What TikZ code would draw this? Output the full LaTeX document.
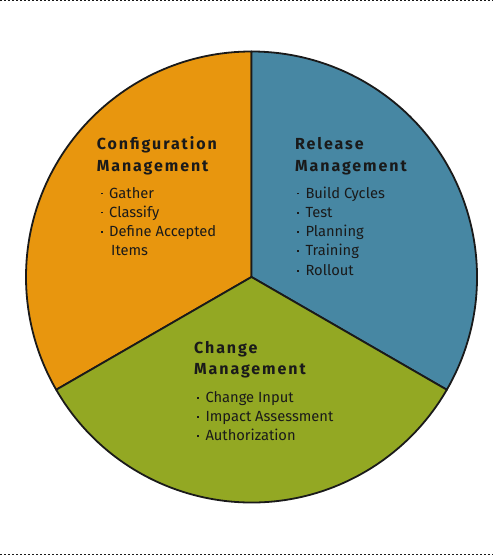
\documentclass[tikz,border=0pt]{standalone}
\usepackage{fontspec}
\setmainfont{Fira Sans}
\newfontfamily\headfont{Fira Sans}[LetterSpace=12]
\definecolor{cfgorange}{HTML}{E8960E}
\definecolor{relblue}{HTML}{4787A3}
\definecolor{chggreen}{HTML}{93A823}
\definecolor{edge}{HTML}{1A1A1A}
\newcommand\bitem[1]{\makebox[9bp][l]{\hspace{0.6bp}\raisebox{3.8bp}{\rule{1.8bp}{1.8bp}}}#1}
\begin{document}
\begin{tikzpicture}[x=1bp,y=1bp,
  sector/.style={draw=edge,line width=1.8bp,line join=round},
  head/.style={anchor=base west,inner sep=0pt,font=\headfont\bfseries\fontsize{16bp}{18bp}\selectfont,text=edge},
  listitem/.style={anchor=base west,inner sep=0pt,font=\fontsize{14.7bp}{17bp}\selectfont,text=edge},
  dotline/.style={draw=edge,line width=1bp,dash pattern=on 2bp off 2bp}]
\useasboundingbox (0,0) rectangle (493,556);
\coordinate (c) at (251.5,279);
\coordinate (tl) at (0,555); \coordinate (tr) at (493,555);
\coordinate (bl) at (0,1); \coordinate (br) at (493,1);
\draw[dotline] (tl) -- (tr);
\draw[dotline] (bl) -- (br);
\filldraw[sector,fill=cfgorange] (c) -- ++(90:225.5) arc[start angle=90,end angle=210,radius=225.5] -- cycle;
\filldraw[sector,fill=relblue] (c) -- ++(-30:225.5) arc[start angle=-30,end angle=90,radius=225.5] -- cycle;
\filldraw[sector,fill=chggreen] (c) -- ++(210:225.5) arc[start angle=210,end angle=330,radius=225.5] -- cycle;
% Configuration
\node[head] (cfg1) at (96.7,406) {Configuration};
\node[head] (cfg2) at (96.7,384.3) {Management};
\node[listitem] (cfga) at (100,357.7) {\bitem{Gather}};
\node[listitem] (cfgb) at (100,338.7) {\bitem{Classify}};
\node[listitem] (cfgc) at (100,319.3) {\bitem{Define Accepted}};
\node[listitem] (cfgd) at (111,300) {Items};
% Release
\node[head] (rel1) at (295,406) {Release};
\node[head] (rel2) at (295,384.3) {Management};
\node[listitem] (rela) at (296.3,357.7) {\bitem{Build Cycles}};
\node[listitem] (relb) at (296.3,338.3) {\bitem{Test}};
\node[listitem] (relc) at (296.3,319) {\bitem{Planning}};
\node[listitem] (reld) at (296.3,300) {\bitem{Training}};
\node[listitem] (rele) at (296.3,280.3) {\bitem{Rollout}};
% Change
\node[head] (chg1) at (194,202.7) {Change};
\node[head] (chg2) at (194,181) {Management};
\node[listitem] (chga) at (196.3,153.3) {\bitem{Change Input}};
\node[listitem] (chgb) at (196.3,134.3) {\bitem{Impact Assessment}};
\node[listitem] (chgc) at (196.3,115) {\bitem{Authorization}};
\end{tikzpicture}
\end{document}
